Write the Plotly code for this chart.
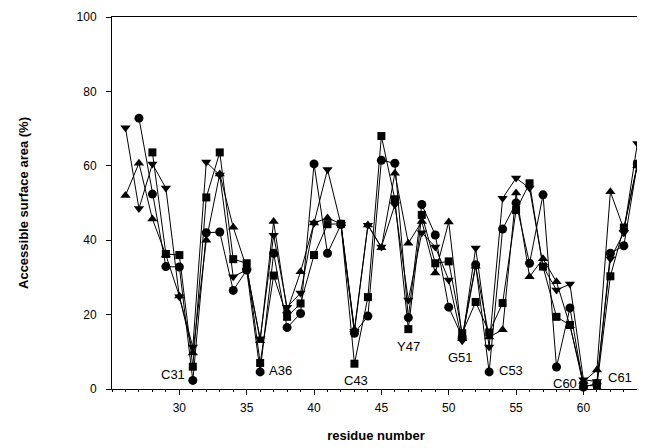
import plotly.graph_objects as go

residues = list(range(26, 65))

circles = [None, 72.8, 52.4, 32.9, 32.8, 2.3, 42.0, 42.2, 26.5, 32.0,
           4.6, 36.5, 16.5, 20.3, 60.5, 36.5, 44.2, 15.0, 19.6, 61.5,
           60.7, 19.2, 49.6, 41.4, 22.0, 14.0, 33.4, 4.6, 43.0, 50.0,
           33.8, 52.2, 5.9, 21.8, 0.5, 1.5, 36.5, 38.5, 60.5]

squares = [None, None, 63.6, 36.3, 36.0, 6.0, 51.5, 63.6, 34.9, 33.8,
           7.0, 30.5, 19.4, 23.0, 36.0, 44.3, 44.4, 6.8, 24.7, 68.0,
           51.0, 16.1, 46.8, 33.8, 34.3, 15.0, 23.4, 15.2, 23.1, 48.1,
           55.3, 32.9, 19.4, 17.2, 1.0, 0.8, 30.3, 43.4, 60.4]

tri_up = [52.0, 60.7, 45.7, 36.0, 25.0, 9.7, 40.0, 57.8, 43.5, 32.5,
          13.0, 45.0, 21.0, 31.5, 44.6, 46.0, 44.4, 16.0, 44.1, 38.0,
          58.0, 39.2, 45.0, 31.2, 44.9, 13.5, 33.0, 14.0, 15.9, 52.7,
          30.2, 35.0, 28.8, 17.0, 2.0, 5.1, 53.0, 43.0, 60.0]

tri_down = [70.2, 48.5, 60.5, 54.0, 24.8, 11.3, 61.0, 57.5, 30.2, 32.0,
            13.5, 41.3, 22.0, 25.8, 44.6, 59.0, 44.2, 15.5, 44.0, 38.2,
            49.5, 23.9, 42.0, 38.2, 29.3, 13.0, 37.9, 11.3, 51.3, 56.7,
            54.0, 33.0, 26.6, 28.2, 2.5, 2.0, 35.0, 42.0, 66.0]

labels = ["C31", "A36", "C43", "Y47", "G51", "C53", "C60", "C61"]
label_x = [29.5, 37.5, 43.1, 47.0, 50.9, 54.65, 58.6, 62.7]
label_y = [3.8, 5.0, 2.4, 11.3, 8.6, 5.1, 1.6, 3.0]

fig = go.Figure()
series = [
    (circles, "circle", 9),
    (squares, "square", 8),
    (tri_up, "triangle-up", 9),
    (tri_down, "triangle-down", 9),
]
for vals, sym, sz in series:
    fig.add_trace(go.Scatter(
        x=residues, y=vals, mode="lines+markers",
        line=dict(color="black", width=1),
        marker=dict(symbol=sym, size=sz, color="black"),
        connectgaps=False, showlegend=False, cliponaxis=False,
    ))

for t, xv, yv in zip(labels, label_x, label_y):
    fig.add_annotation(x=xv, y=yv, text=t, showarrow=False,
                       font=dict(family="Liberation Sans, Arial", size=13, color="black"))

fig.update_layout(
    width=637, height=440,
    margin=dict(l=104, r=5, t=9, b=59, autoexpand=False),
    paper_bgcolor="white", plot_bgcolor="white",
    font=dict(family="Liberation Sans, Arial", size=12, color="black"),
)
fig.update_xaxes(
    range=[25, 64.2], tickmode="array", tickvals=[30, 35, 40, 45, 50, 55, 60],
    ticks="outside", ticklen=5, tickwidth=1, tickcolor="black",
    ticklabelstandoff=3,
    showline=True, linecolor="black", linewidth=1, mirror=True,
    showgrid=False, zeroline=False, automargin=False,
    minor=dict(ticks="outside", ticklen=2, dtick=1, tickcolor="black", showgrid=False),
    title=dict(text="<b>residue number</b>", font=dict(size=13), standoff=16),
)
fig.update_yaxes(
    range=[0, 100], tickmode="array", tickvals=[0, 20, 40, 60, 80, 100],
    ticks="outside", ticklen=5, tickwidth=1, tickcolor="black",
    ticklabelstandoff=7,
    showline=True, linecolor="black", linewidth=1,
    showgrid=False, zeroline=False, automargin=False,
    title=dict(text="<b>Accessible surface area (%)</b>", font=dict(size=13), standoff=45),
)

fig.write_html("out.html")
